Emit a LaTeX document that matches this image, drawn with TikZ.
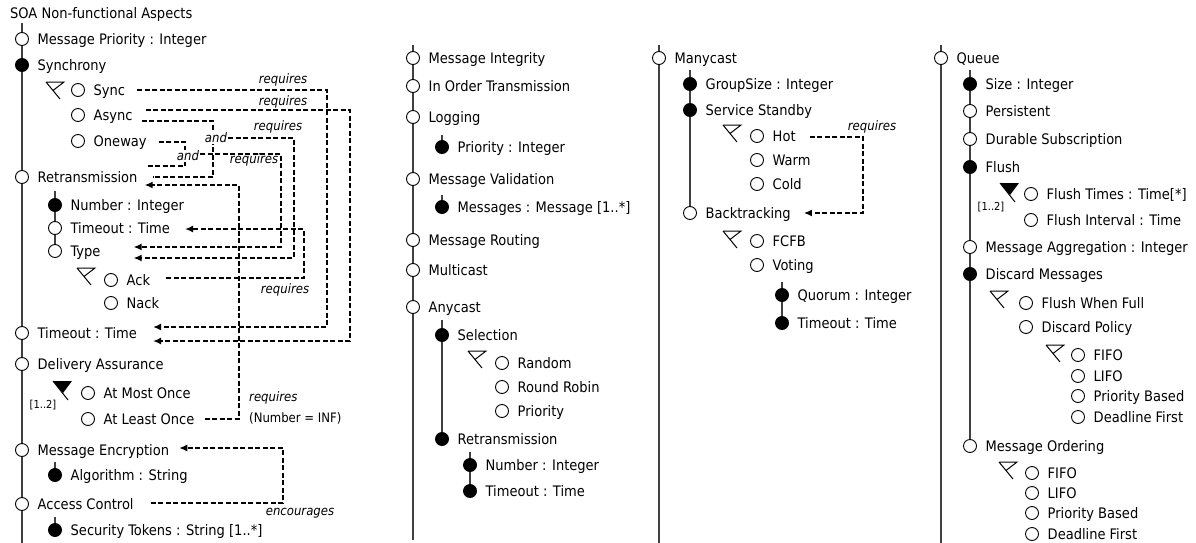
\documentclass[tikz,border=0pt]{standalone}
\usepackage{fontspec}
\setmainfont{DejaVu Sans Condensed}
\usetikzlibrary{arrows.meta,backgrounds}

\tikzset{
  opt/.style={circle, draw, fill=white, line width=0.9pt, minimum size=13pt, inner sep=0pt},
  mand/.style={opt, fill=black},
  lbl/.style={anchor=west, inner sep=0pt, text height=10.6pt, text depth=0pt},
  tree/.style={line width=1.1pt, black!75},
  grp/.style={line width=1pt},
  cons/.style={line width=1.4pt, dash pattern=on 5pt off 2.5pt},
  arr/.style={cons, -{Latex[length=8pt,width=7pt]}},
  ctxt/.style={font=\fontsize{13}{15}\selectfont\itshape, inner sep=1pt},
}

\begin{document}
\begin{tikzpicture}[x=1pt, y=-1pt, font=\fontsize{14.5}{17}\selectfont]
  \useasboundingbox (0,0) rectangle (1196,543);
  \coordinate (bot) at (0,543);
  \node[lbl] (title) at (10,13) {SOA Non-functional Aspects};

  % features: name/x/y/kind/text
  \foreach \nm/\x/\y/\sty/\txt in {
      mprio/22/39/opt/{Message Priority : Integer},
      synch/22/65/mand/{Synchrony},
      sync/78/90/opt/{Sync},
      async/78/115/opt/{Async},
      oneway/78/141/opt/{Oneway},
      retr/22/177/opt/{Retransmission},
      rnum/55/205/mand/{Number : Integer},
      rtmo/55/228/opt/{Timeout : Time},
      rtype/55/251/opt/{Type},
      ack/111/280/opt/{Ack},
      nack/111/303/opt/{Nack},
      tmo/22/333/opt/{Timeout : Time},
      deliv/22/364/opt/{Delivery Assurance},
      most/88/393/opt/{At Most Once},
      least/88/419/opt/{At Least Once},
      menc/22/450/opt/{Message Encryption},
      algo/55/475/mand/{Algorithm : String},
      acc/22/504/opt/{Access Control},
      tok/55/530/mand/{Security Tokens : String [1..*]},
      minteg/413/58/opt/{Message Integrity},
      inord/413/86/opt/{In Order Transmission},
      logg/413/117/opt/{Logging},
      lprio/442/147/mand/{Priority : Integer},
      mval/413/179/opt/{Message Validation},
      msgs/442/207/mand/{Messages : Message [1..*]},
      mrout/413/240/opt/{Message Routing},
      mcast/413/270/opt/{Multicast},
      acast/413/307/opt/{Anycast},
      sel/442/335/mand/{Selection},
      rand/502/363/opt/{Random},
      rrob/502/387/opt/{Round Robin},
      aprio/502/411/opt/{Priority},
      aretr/442/439/mand/{Retransmission},
      anum/470/465/mand/{Number : Integer},
      atmo/470/491/mand/{Timeout : Time},
      many/659/58/opt/{Manycast},
      gsize/690/84/mand/{GroupSize : Integer},
      sstby/690/110/mand/{Service Standby},
      hot/757/136/opt/{Hot},
      warm/757/160/opt/{Warm},
      cold/757/184/opt/{Cold},
      back/690/213/opt/{Backtracking},
      fcfb/757/241/opt/{FCFB},
      vote/757/265/opt/{Voting},
      quor/782/295/mand/{Quorum : Integer},
      vtmo/782/323/mand/{Timeout : Time},
      queue/941/58/opt/{Queue},
      qsize/970/84/mand/{Size : Integer},
      pers/970/111/opt/{Persistent},
      dur/970/139/opt/{Durable Subscription},
      flush/970/167/mand/{Flush},
      ftimes/1031/194/opt/{Flush Times : Time[*]},
      fint/1031/220/opt/{Flush Interval : Time},
      magg/970/247/opt/{Message Aggregation : Integer},
      disc/970/274/mand/{Discard Messages},
      fwf/1026/303/opt/{Flush When Full},
      dpol/1026/327/opt/{Discard Policy},
      dfifo/1078/355/opt/{FIFO},
      dlifo/1078/376/opt/{LIFO},
      dprio/1078/396/opt/{Priority Based},
      ddead/1078/417/opt/{Deadline First},
      mord/970/446/opt/{Message Ordering},
      ofifo/1032/473/opt/{FIFO},
      olifo/1032/493/opt/{LIFO},
      oprio/1032/513/opt/{Priority Based},
      odead/1032/534/opt/{Deadline First}} {
    \node[\sty] (\nm) at (\x,\y) {};
    \node[lbl] (t\nm) at (\x+15.5,\y) {\txt};
  }

  % tree lines
  \begin{scope}[on background layer]
    \draw[tree] ([yshift=16pt]mprio.center) -- (mprio |- bot);
    \draw[tree] ([yshift=14pt]rnum.center) -- (rtype.center);
    \draw[tree] ([yshift=13pt]algo.center) -- (algo.center);
    \draw[tree] ([yshift=13pt]tok.center) -- (tok.center);
    \draw[tree] ([yshift=13pt]minteg.center) -- ([yshift=3pt]minteg |- bot);
    \draw[tree] ([yshift=12pt]lprio.center) -- (lprio.center);
    \draw[tree] ([yshift=12pt]msgs.center) -- (msgs.center);
    \draw[tree] ([yshift=15pt]sel.center) -- (aretr.center);
    \draw[tree] ([yshift=13pt]anum.center) -- (atmo.center);
    \draw[tree] ([yshift=13pt]many.center) -- (many |- bot);
    \draw[tree] ([yshift=14pt]gsize.center) -- (back.center);
    \draw[tree] ([yshift=13pt]quor.center) -- (vtmo.center);
    \draw[tree] ([yshift=13pt]queue.center) -- (queue |- bot);
    \draw[tree] ([yshift=14pt]qsize.center) -- (mord.center);
  \end{scope}

  % groups
  \foreach \vx/\vy in {46/82, 77/268, 468/351, 723/125, 723/231, 990/291, 1046/345, 999/462}
    \draw[grp] (\vx,\vy) -- ++(18,0) -- ++(-11,8.5) (\vx,\vy) -- ++(14,17);
  \foreach \vx/\vy in {53/381, 1000/183} {
    \fill (\vx,\vy) -- ++(19,0) -- ++(-9,12) -- cycle;
    \draw[grp] (\vx,\vy) -- ++(15,19);
  }
  \node[font=\fontsize{11}{13}\selectfont] (card1) at (43,405) {[1..2]};
  \node[font=\fontsize{11}{13}\selectfont] (card2) at (991,207) {[1..2]};

  % lanes of the constraints
  \coordinate (lSync) at (327,0);
  \coordinate (lAsync) at (350,0);
  \coordinate (lAnd1) at (213,0);
  \coordinate (lAnd1r) at (294,0);
  \coordinate (lAnd2) at (185,0);
  \coordinate (lAnd2r) at (281,0);
  \coordinate (lAck) at (304,0);
  \coordinate (lLeast) at (239,0);
  \coordinate (lEnc) at (283,0);
  \coordinate (lHot) at (863,0);
  \coordinate (and2in) at (147,166);

  \coordinate (tmoA) at ([xshift=16pt,yshift=6pt]ttmo.east);
  \coordinate (tmoB) at ([xshift=16pt,yshift=-8pt]ttmo.east);
  \coordinate (retrA) at ([xshift=15pt]tretr.east);
  \coordinate (retrB) at ([xshift=7pt,yshift=-8pt]tretr.east);
  \coordinate (typeA) at ([xshift=33pt,yshift=4pt]trtype.east);
  \coordinate (typeB) at ([xshift=33pt,yshift=-7pt]trtype.east);
  \coordinate (rtmoA) at ([xshift=15pt,yshift=-1pt]trtmo.east);
  \coordinate (mencA) at ([xshift=10pt,yshift=2pt]tmenc.east);
  \coordinate (backA) at ([xshift=13pt]tback.east);

  % constraints
  \draw[arr] ([xshift=12pt]tsync.east) -| (lSync |- tmoA) -- (tmoA);
  \node[ctxt] (req1) at (283,80) {requires};
  \draw[arr] ([xshift=13pt,yshift=5pt]tasync.east) -| (lAsync |- tmoB) -- (tmoB);
  \node[ctxt] (req2) at (283,102) {requires};

  \draw[cons] ([xshift=9pt,yshift=-6pt]tasync.east) -| (lAnd1 |- retrA) -- (retrA);
  \node[ctxt, fill=white] (and1) at (216,138) {and};
  \draw[arr] (and1.east) -| (lAnd1r |- typeB) -- (typeB);
  \node[ctxt] (req3) at (278,127) {requires};

  \draw[cons] ([xshift=12pt,yshift=-1pt]toneway.east) -| (lAnd2 |- and2in) -- (and2in);
  \node[ctxt, fill=white] (and2) at (188,156) {and};
  \draw[arr] ([yshift=2pt]and2.east) -| (lAnd2r |- typeA) -- (typeA);
  \node[ctxt] (req4) at (254,160) {requires};

  \draw[arr] ([xshift=16pt,yshift=2pt]tack.east) -| (lAck |- rtmoA) -- (rtmoA);
  \node[ctxt] (req5) at (285,290) {requires};

  \draw[arr] ([xshift=10pt]tleast.east) -| (lLeast |- retrB) -- (retrB);
  \node[ctxt, anchor=west] (req6) at (248,398) {requires};
  \node[font=\fontsize{13}{15}\selectfont, anchor=west, inner sep=1pt] (inf) at (248,418) {(Number = INF)};

  \draw[arr] ([xshift=17pt,yshift=1pt]tacc.east) -| (lEnc |- mencA) -- (mencA);
  \node[ctxt] (enc) at (300,513) {encourages};

  \draw[arr] ([xshift=14pt,yshift=-1pt]thot.east) -| (lHot |- backA) -- (backA);
  \node[ctxt] (req7) at (872,127) {requires};
\end{tikzpicture}
\end{document}
